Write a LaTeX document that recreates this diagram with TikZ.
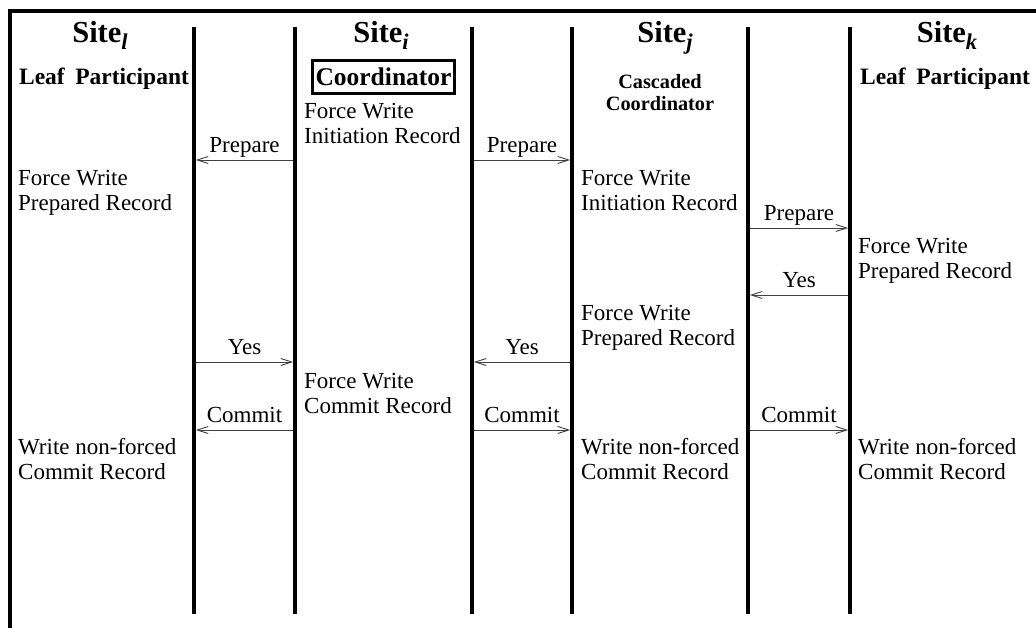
\documentclass[tikz,border=0pt]{standalone}
\usepackage{fontspec}
\setmainfont{Liberation Serif}
\usetikzlibrary{arrows.meta}

\newcommand{\sitesub}[1]{\raisebox{-7pt}{\fontsize{22.5}{24}\selectfont\itshape #1}}

\begin{document}
\begin{tikzpicture}[x=1pt,y=-1pt,
  frameline/.style={line width=4.5pt, line join=miter},
  lifeline/.style={line width=3.5pt},
  msg/.style={line width=0.9pt, draw=black!75,
    -{Straight Barb[length=11pt,width=7pt,line width=0.9pt]},
    shorten >=1.75pt, shorten <=1.75pt},
  msglabel/.style={midway, anchor=base, yshift=7.5pt, inner sep=0pt, text=black,
    font=\fontsize{23}{24.5}\selectfont},
  note/.style={anchor=north west, align=left, inner sep=0pt,
    font=\fontsize{23}{24.5}\selectfont},
  sitehead/.style={anchor=base, inner sep=0pt,
    font=\fontsize{30.5}{33}\selectfont\bfseries},
  role/.style={anchor=base, inner sep=0pt,
    font=\fontsize{23.5}{26}\selectfont\bfseries},
]
\useasboundingbox (0,0) rectangle (1036,628);

% outer frame (top and left edges)
\coordinate (frameBL) at (10,628);
\coordinate (frameTL) at (10,11);
\coordinate (frameTR) at (1036,11);
\draw[frameline] (frameBL) -- (frameTL) -- (frameTR);

% lifelines
\foreach \n/\x in {A/194,B/295,C/472,D/572,E/748,F/850}{
  \coordinate (\n top) at (\x,27);
  \coordinate (\n bot) at (\x,614);
  \draw[lifeline] (\n top) -- (\n bot);
}

% site headings
\node[sitehead] (siteL) at (100,43) {Site\sitesub{l}};
\node[sitehead] (siteI) at (381,43) {Site\sitesub{i}};
\node[sitehead] (siteJ) at (665,43) {Site\sitesub{j}};
\node[sitehead] (siteK) at (947,43) {Site\sitesub{k}};

% roles
\node[role] (roleL) at (104,85) {Leaf\hspace{0.45em}Participant};
\node[role] (roleK) at (945,85) {Leaf\hspace{0.45em}Participant};
\node[draw, line width=3pt, minimum width=142pt, minimum height=33pt, inner sep=0pt,
  font=\fontsize{25.5}{28}\selectfont\bfseries] (roleI) at (383.5,77) {Coordinator};
\node[anchor=north, align=center, inner sep=0pt,
  font=\fontsize{20.3}{22}\selectfont\bfseries] (roleJ) at (660,74.3) {Cascaded\\Coordinator};

% log actions
\node[note] (nI1) at (304,103.3) {Force Write\\Initiation Record};
\node[note] (nL1) at (18,170.3) {Force Write\\Prepared Record};
\node[note] (nJ1) at (581,170.3) {Force Write\\Initiation Record};
\node[note] (nK1) at (858,238.3) {Force Write\\Prepared Record};
\node[note] (nJ2) at (581,305.3) {Force Write\\Prepared Record};
\node[note] (nI2) at (304,373.3) {Force Write\\Commit Record};
\node[note] (nL2) at (18,438.3) {Write non-forced\\Commit Record};
\node[note] (nJ3) at (581,438.3) {Write non-forced\\Commit Record};
\node[note] (nK2) at (858,438.3) {Write non-forced\\Commit Record};

% message end points
\coordinate (p1s) at (295,160); \coordinate (p1e) at (194,160);
\coordinate (p2s) at (472,160); \coordinate (p2e) at (572,160);
\coordinate (p3s) at (748,228); \coordinate (p3e) at (850,228);
\coordinate (y1s) at (850,295); \coordinate (y1e) at (748,295);
\coordinate (y2s) at (572,362); \coordinate (y2e) at (472,362);
\coordinate (y3s) at (194,362); \coordinate (y3e) at (295,362);
\coordinate (c1s) at (295,430); \coordinate (c1e) at (194,430);
\coordinate (c2s) at (472,430); \coordinate (c2e) at (572,430);
\coordinate (c3s) at (748,430); \coordinate (c3e) at (850,430);

% messages
\draw[msg] (p1s) -- (p1e) node[msglabel] {Prepare};
\draw[msg] (p2s) -- (p2e) node[msglabel] {Prepare};
\draw[msg] (p3s) -- (p3e) node[msglabel] {Prepare};
\draw[msg] (y1s) -- (y1e) node[msglabel] {Yes};
\draw[msg] (y2s) -- (y2e) node[msglabel] {Yes};
\draw[msg] (y3s) -- (y3e) node[msglabel] {Yes};
\draw[msg] (c1s) -- (c1e) node[msglabel] {Commit};
\draw[msg] (c2s) -- (c2e) node[msglabel] {Commit};
\draw[msg] (c3s) -- (c3e) node[msglabel] {Commit};
\end{tikzpicture}
\end{document}
